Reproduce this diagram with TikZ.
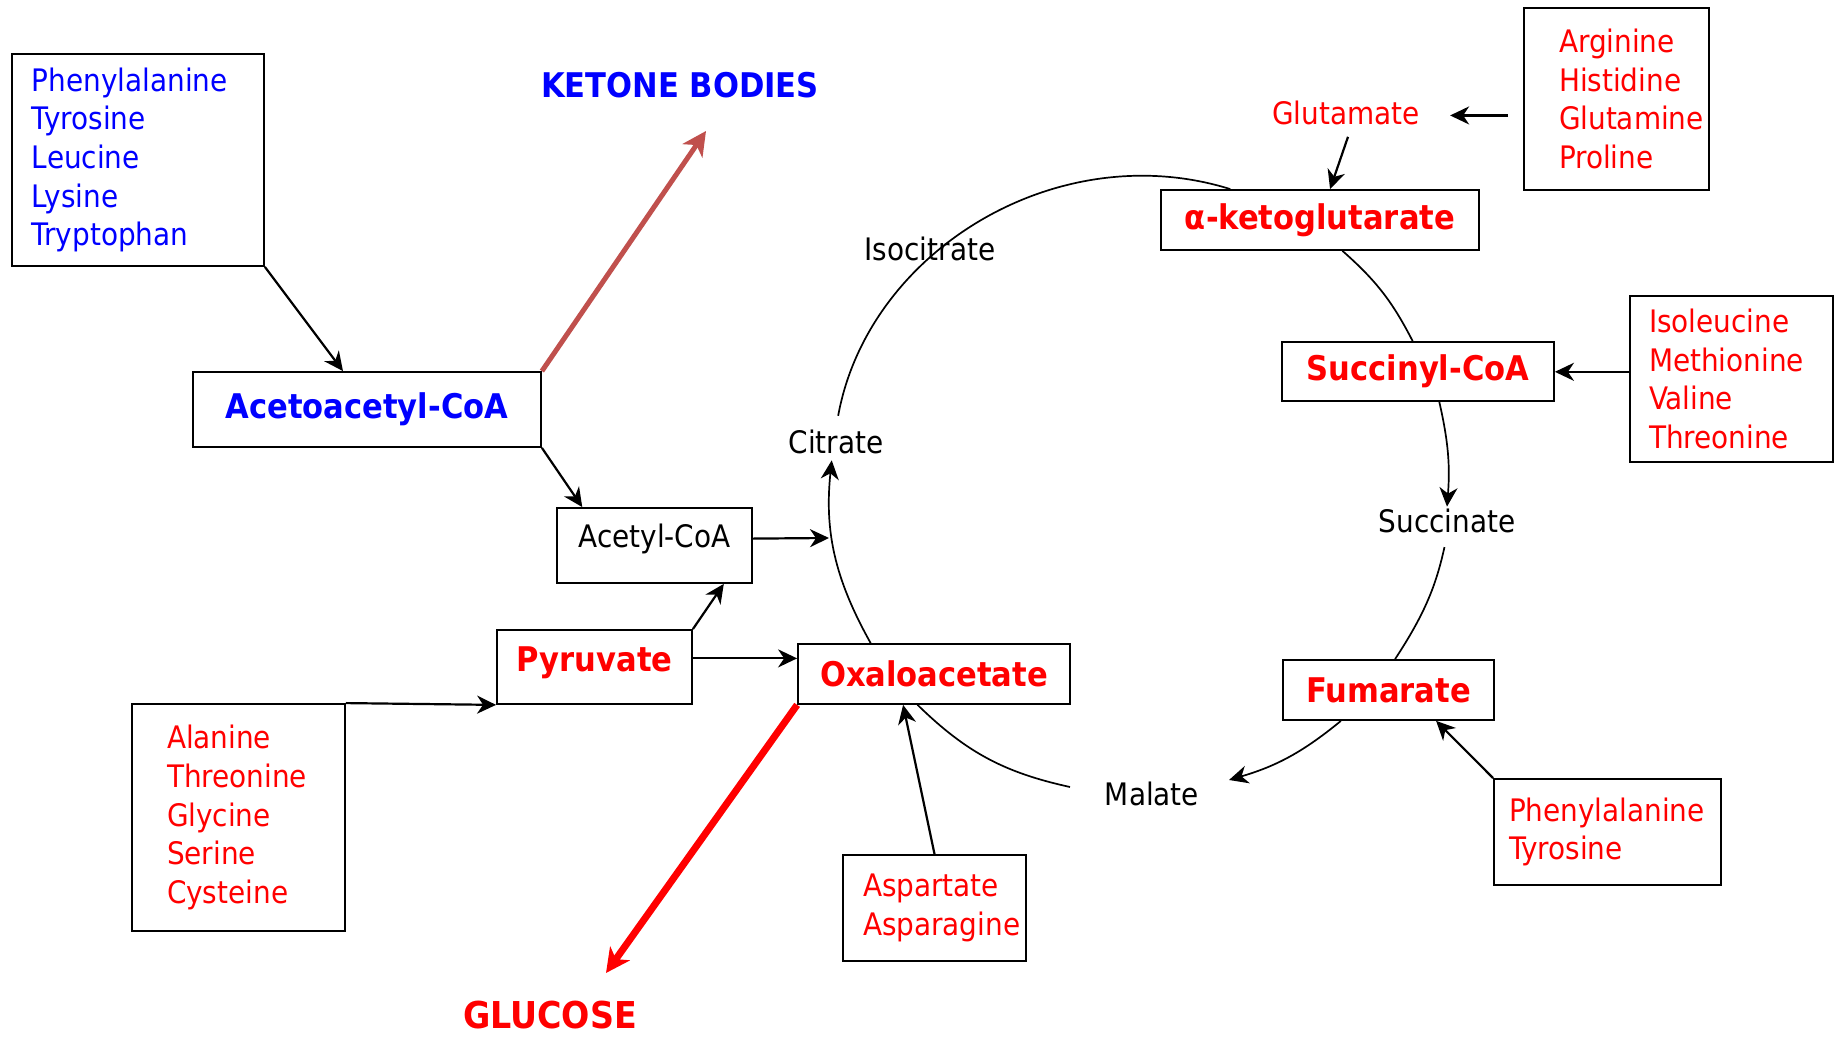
\documentclass[tikz,border=0pt]{standalone}
\usepackage{fontspec}
\setmainfont{DejaVu Sans Condensed}
\usetikzlibrary{arrows.meta}
\definecolor{ketbrown}{RGB}{192,80,77}
\definecolor{aared}{RGB}{255,0,0}
\definecolor{aablue}{RGB}{0,0,255}

\begin{document}
\begin{tikzpicture}[x=0.5pt, y=0.5pt]
\tikzset{
box/.style={draw, line width=0.9pt, fill=white, inner ysep=0pt},
list/.style={box, align=left, font=\fontsize{15.5}{19.3}\selectfont},
big/.style={font=\fontsize{17}{20}\selectfont\bfseries},
word/.style={font=\fontsize{15.5}{19}\selectfont, inner sep=1pt},
arr/.style={-{Stealth[length=9.5pt,width=9pt,inset=3pt]}, line width=1.1pt},
fat/.style={-{Stealth[length=12pt,width=12pt,inset=3.5pt]}},
cyc/.style={line width=0.85pt}
}

	% coordinates
	\useasboundingbox (0,0) rectangle (1834,1037);

	% left side
	\node[list, text=aablue, text width=106pt, inner xsep=10pt, minimum height=106pt] at (138,877) (keto) {Phenylalanine\\Tyrosine\\Leucine\\Lysine\\Tryptophan};
	\node[box, big, text=aablue, minimum width=174pt, minimum height=37.5pt] at (367,627.5) (aac) {Acetoacetyl-CoA};
	\node[big, text=aablue] at (680,952) (ket) {KETONE BODIES};
	\node[box, word, text depth=10pt, minimum width=97.5pt, minimum height=37.5pt] at (654.5,491.5) (acoa) {Acetyl-CoA};
	\node[box, big, text=aared, text depth=8pt, minimum width=97.5pt, minimum height=37pt] at (594.5,370) (pyr) {Pyruvate};
	\node[list, text=aared, text width=71.5pt, inner xsep=17.5pt, minimum height=113.5pt] at (238.5,219.5) (glyc) {Alanine\\Threonine\\Glycine\\Serine\\Cysteine};
	\node[big, text=aared, font=\fontsize{18.5}{20}\selectfont\bfseries, anchor=base] at (550,8) (gluc) {GLUCOSE};

	% cycle
	\node[box, big, text=aared, minimum width=136pt, minimum height=30pt] at (934,363) (oxa) {Oxaloacetate};
	\node[word] at (836,595) (cit) {Citrate};
	\node[word] at (930,788) (iso) {Isocitrate};
	\node[box, big, text=aared, minimum width=159pt, minimum height=30pt] at (1320,817) (akg) {α-ketoglutarate};
	\node[box, big, text=aared, minimum width=136pt, minimum height=29.5pt] at (1418,665.5) (scoa) {Succinyl-CoA};
	\node[word] at (1447,516) (sct) {Succinate};
	\node[box, big, text=aared, minimum width=105.5pt, minimum height=30pt] at (1388.5,347) (fum) {Fumarate};
	\node[word] at (1152,243) (mal) {Malate};

	% right side
	\node[word, text=aared] at (1346,924) (glu) {Glutamate};
	\node[list, text=aared, text width=57.5pt, inner xsep=17.5pt, minimum height=91pt] at (1616.5,938) (glnf) {Arginine\\Histidine\\Glutamine\\Proline};
	\node[list, text=aared, text width=82.5pt, inner xsep=9.5pt, minimum height=83pt] at (1731.5,658) (bcaa) {Isoleucine\\Methionine\\Valine\\Threonine};
	\node[list, text=aared, text width=98.5pt, inner xsep=7.5pt, minimum height=53pt] at (1607.5,205) (aro) {Phenylalanine\\Tyrosine};
	\node[list, text=aared, text width=71.5pt, inner xsep=10pt, minimum height=53pt] at (934.5,129) (asp) {Aspartate\\Asparagine};

	\coordinate (ketTip) at (706,906);
	\coordinate (glcTip) at (606,64);
	\coordinate (acIn) at (829,499);
	\coordinate (malIn) at (1229,257);
	\coordinate (malOut) at (1070,250);

	\draw[arr] (keto.south east) -- (aac.122);
	\draw[arr, fat, ketbrown, line width=2.5pt] (aac.north east) -- (ketTip);
	\draw[arr] (aac.south east) -- (acoa.152);
	\draw[arr] (acoa.4) -- (acIn);
	\draw[arr] (pyr.north east) -- (acoa.-29);
	\draw[arr] (pyr.5) -- (pyr.5 -| oxa.west);
	\draw[arr] (glyc.north east) -- (pyr.south west);
	\draw[arr, fat, aared, line width=3.5pt] (oxa.south west) -- (glcTip);
	\draw[arr] (asp.north) -- (oxa.-135);
	\draw[arr] (aro.north west) -- (fum.-33);
	\draw[arr] (bcaa.176) -- (bcaa.176 -| scoa.east);
	\draw[arr, shorten <=7.5pt, shorten >=14pt] (glnf.190) -- (glnf.190 -| glu.east);
	\draw[arr, shorten <=5pt] (glu.-70) -- (akg.72);

	\draw[arr, cyc, shorten >=2pt] (oxa.154) to[bend left=17.6] (cit.-105);
	\draw[cyc, shorten <=6pt] (cit.north) to[bend left=48.5] (akg.161);
	\draw[cyc] (akg.-54) to[bend left=10.7] (scoa.100);
	\draw[arr, cyc] (scoa.-55) to[bend left=8.6] (sct.north);
	\draw[cyc, shorten <=6pt] (sct.south) to[bend left=10.5] (fum.78);
	\draw[arr, cyc] (fum.-147) to[bend left=11.5] (malIn);
	\draw[cyc] (malOut) to[bend left=16] (oxa.-118);

\end{tikzpicture}
\end{document}
